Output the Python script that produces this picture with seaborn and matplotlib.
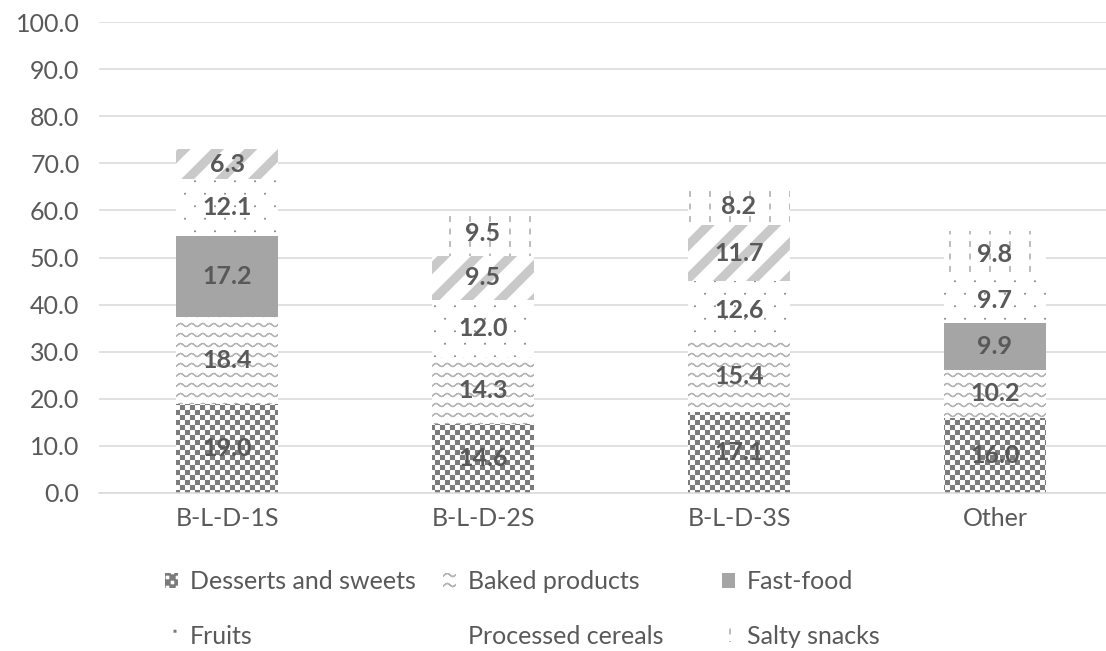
import warnings
warnings.filterwarnings("ignore")
import numpy as np
import pandas as pd
import matplotlib
matplotlib.use("Agg")
import matplotlib.pyplot as plt
import matplotlib.hatch as mhatch
import matplotlib.patches as mpatches
from matplotlib.path import Path
from matplotlib.ticker import FormatStrFormatter
import seaborn as sns

# ---------------- data ----------------
categories = ["B-L-D-1S", "B-L-D-2S", "B-L-D-3S", "Other"]
desserts = [19.0, 14.6, 17.1, 16.0]
baked = [18.4, 14.3, 15.4, 10.2]
fastfood = [17.2, 0.0, 0.0, 9.9]
fruits = [12.1, 12.0, 12.6, 9.7]
cereals = [6.3, 9.5, 11.7, 0.0]
snacks = [0.0, 9.5, 8.2, 9.8]
series_names = ["Desserts and sweets", "Baked products", "Fast-food",
                "Fruits", "Processed cereals", "Salty snacks"]
series_values = [desserts, baked, fastfood, fruits, cereals, snacks]
yticks = [0, 10, 20, 30, 40, 50, 60, 70, 80, 90, 100]


# ---------------- custom hatch patterns ----------------
class _CheckerHatch(mhatch.HatchPatternBase):
    def __init__(self, hatch, density):
        self.n = 20 if "#" in hatch else 0
        self.cells = [(i, j) for i in range(self.n) for j in range(self.n) if (i + j) % 2 == 0]
        self.num_vertices = len(self.cells) * 5

    def set_vertices_and_codes(self, vertices, codes):
        s = 1.0 / self.n
        sq = np.array([[0, 0], [1, 0], [1, 1], [0, 1], [0, 0]], float) * s
        for k, (i, j) in enumerate(self.cells):
            vertices[k * 5:(k + 1) * 5] = sq + np.array([i * s, j * s])
            codes[k * 5:(k + 1) * 5] = [Path.MOVETO, Path.LINETO, Path.LINETO,
                                        Path.LINETO, Path.CLOSEPOLY]


class _WaveHatch(mhatch.HatchPatternBase):
    def __init__(self, hatch, density):
        self.on = "~" in hatch
        self.rows = 10
        self.periods = 9
        self.npts = self.periods * 8 + 1
        self.num_vertices = self.rows * self.npts * 2 if self.on else 0

    def set_vertices_and_codes(self, vertices, codes):
        x = np.linspace(0, 1, self.npts)
        yw = 0.016 * np.sin(2 * np.pi * self.periods * x)
        k = 0
        for r in range(self.rows):
            y0 = (r + 0.5) / self.rows
            fwd = np.column_stack([x, y0 + yw])
            pth = np.vstack([fwd, fwd[::-1]])
            m = len(pth)
            vertices[k:k + m] = pth
            codes[k] = Path.MOVETO
            codes[k + 1:k + m] = Path.LINETO
            k += m


class _DashHatch(mhatch.HatchPatternBase):
    def __init__(self, hatch, density):
        self.on = ":" in hatch
        self.cols = 5
        self.rows = 8
        self.num_vertices = self.cols * self.rows * 2 if self.on else 0

    def set_vertices_and_codes(self, vertices, codes):
        k = 0
        for c in range(self.cols):
            x = (c + 0.5) / self.cols
            for d in range(self.rows):
                y0 = (d + 0.3) / self.rows
                vertices[k] = [x, y0]
                vertices[k + 1] = [x, y0 + 0.045]
                codes[k] = Path.MOVETO
                codes[k + 1] = Path.LINETO
                k += 2


class _DotHatch(mhatch.HatchPatternBase):
    def __init__(self, hatch, density):
        self.on = "," in hatch
        self.cols = 5
        self.rows = 8
        self.num_vertices = self.cols * self.rows * 5 if self.on else 0

    def set_vertices_and_codes(self, vertices, codes):
        s = 0.016
        sq = np.array([[0, 0], [1, 0], [1, 1], [0, 1], [0, 0]], float) * s - s / 2
        k = 0
        for r in range(self.rows):
            y = (r + 0.5) / self.rows
            shift = 0.25 if r % 2 == 0 else 0.75
            for c in range(self.cols):
                x = (c + shift) / self.cols
                vertices[k:k + 5] = sq + np.array([x, y])
                codes[k:k + 5] = [Path.MOVETO, Path.LINETO, Path.LINETO,
                                  Path.LINETO, Path.CLOSEPOLY]
                k += 5


class _StripeHatch(mhatch.HatchPatternBase):
    def __init__(self, hatch, density):
        self.on = "&" in hatch
        self.n = 3
        self.ks = list(range(-4, 5))
        self.num_vertices = len(self.ks) * 2 if self.on else 0

    def set_vertices_and_codes(self, vertices, codes):
        for i, kk in enumerate(self.ks):
            c = kk / self.n
            vertices[2 * i] = [-1.0, -1.0 + c]
            vertices[2 * i + 1] = [2.0, 2.0 + c]
            codes[2 * i] = Path.MOVETO
            codes[2 * i + 1] = Path.LINETO


mhatch._hatch_types.extend([_CheckerHatch, _WaveHatch, _DashHatch, _DotHatch, _StripeHatch])

# style per series: (facecolor, hatch, hatch colour, hatch linewidth)
styles = [
    ("white", "#", "#7b7b7b", 0.05),
    ("white", "~", "#b4b4b4", 0.9),
    ("#a5a5a5", None, "#a5a5a5", 0.5),
    ("white", ",", "#7a7a7a", 0.05),
    ("white", "&", "#c9c9c9", 6.5),
    ("white", ":", "#a0a0a0", 1.0),
]


def apply_style(p, st):
    fc, h, hc, hlw = st
    p.set_facecolor(fc)
    p.set_edgecolor(hc)
    p.set_linewidth(0)
    if h:
        p.set_hatch(h)
    if hasattr(p, "set_hatch_linewidth"):
        p.set_hatch_linewidth(hlw)
    else:
        orig = p.draw

        def _draw(renderer, _orig=orig, _lw=hlw):
            with plt.rc_context({"hatch.linewidth": _lw}):
                _orig(renderer)
        p.draw = _draw


# ---------------- figure ----------------
sns.set_style("white")
plt.rcParams["font.family"] = ["Lato", "DejaVu Sans"]
TXT = "#595959"
FS = 18

W, H = 1106, 651
fig = plt.figure(figsize=(W / 100, H / 100), dpi=100)
ax = fig.add_axes([99 / W, 1 - 493 / H, 1 - 99 / W, (493 - 22) / H])

bottom = np.zeros(len(categories))
for name, vals, st in zip(series_names, series_values, styles):
    vals = np.asarray(vals, float)
    df = pd.DataFrame({"cat": categories, "val": vals})
    sns.barplot(data=df, x="cat", y="val", order=categories, bottom=bottom.copy(),
                color="white", width=0.4, ax=ax, errorbar=None)
    cont = ax.containers[-1]
    for p in cont.patches:
        apply_style(p, st)
    labels = [f"{v:.1f}" if v > 0 else "" for v in vals]
    ax.bar_label(cont, labels=labels, label_type="center", fontsize=FS,
                 fontweight="bold", color=TXT)
    bottom += vals

ax.set_ylim(0, 100)
ax.set_xlim(-0.5, 3.5 - 17 / 256)
ax.set_yticks(yticks)
ax.yaxis.set_major_formatter(FormatStrFormatter("%.1f"))
ax.set_xlabel("")
ax.set_ylabel("")
ax.grid(axis="y", color="#d9d9d9", linewidth=1.1)
ax.set_axisbelow(True)
for s in ["left", "right", "top"]:
    ax.spines[s].set_visible(False)
ax.spines["bottom"].set_color("#d9d9d9")
ax.spines["bottom"].set_linewidth(1.1)
ax.tick_params(axis="both", length=0, labelsize=FS, labelcolor=TXT)
ax.tick_params(axis="y", pad=14)
ax.tick_params(axis="x", pad=10)

# legend: three columns, each a small legend of two rows
handles = []
for st in styles:
    hp = mpatches.Patch(label="x")
    apply_style(hp, st)
    handles.append(hp)
col_x = [165, 443, 722]
col_items = [[0, 3], [1, 4], [2, 5]]
for cx, items in zip(col_x, col_items):
    fig.legend([handles[i] for i in items], [series_names[i] for i in items],
               loc="center left", bbox_to_anchor=(cx / W, 1 - 609 / H),
               ncol=1, frameon=False, fontsize=FS, labelcolor=TXT,
               handlelength=0.52, handleheight=0.52, handletextpad=0.48,
               labelspacing=1.25, borderpad=0, borderaxespad=0)

fig.savefig("out.png", dpi=100)
